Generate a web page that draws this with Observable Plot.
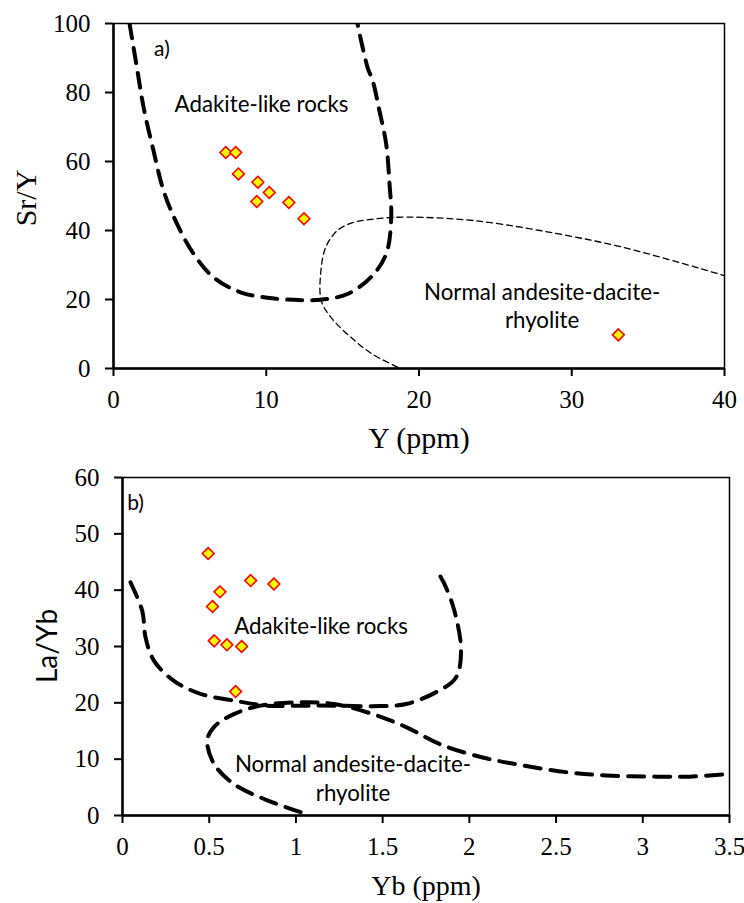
<!DOCTYPE html>
<html>
<head>
<meta charset="utf-8">
<script src="https://cdn.jsdelivr.net/npm/d3@7"></script>
<script src="https://cdn.jsdelivr.net/npm/@observablehq/plot@0.6"></script>
<style>
  html, body { margin: 0; padding: 0; background: #fff; }
  #wrap { position: relative; width: 744px; height: 903px; overflow: hidden; }
  .panel { position: absolute; left: 0; }
  .panel svg { overflow: visible; }
  .lbl { position: absolute; white-space: nowrap; color: #000; line-height: 1; }
  .serif { font-family: "Liberation Serif", "Times New Roman", serif; }
  .sans { font-family: Lato, "Open Sans", sans-serif; }
</style>
</head>
<body>
<div id="wrap">
  <div id="pa" class="panel" style="top:0"></div>
  <div id="pb" class="panel" style="top:450px"></div>
  <div class="lbl serif" style="left:26px; top:198px; font-size:30px; transform: translate(-50%,-50%) rotate(-90deg);">Sr/Y</div>
  <div class="lbl serif" style="left:419px; top:438px; font-size:30px; transform: translate(-50%,-50%);">Y (ppm)</div>
  <div class="lbl sans" style="left:46px; top:646px; font-size:28px; transform: translate(-50%,-50%) rotate(-90deg);">La/Yb</div>
  <div class="lbl serif" style="left:426px; top:886px; font-size:28px; transform: translate(-50%,-50%);">Yb (ppm)</div>
</div>
<script>
// ---------- Panel a) Sr/Y vs Y ----------
const sampleY    = [7.35, 8.0, 8.18, 9.45, 10.2, 9.38, 11.48, 12.47, 33.05];
const sampleSrY  = [62.6, 62.6, 56.4, 54.0, 51.0, 48.4, 48.1, 43.4, 9.75];

const adakiteA_x = [1.05, 1.53, 1.97, 2.62, 3.28, 4.16, 5.25, 6.56, 8.31, 10.07, 11.81, 13.56, 15.31, 16.84, 17.85, 18.18, 18.07, 17.85, 17.41, 16.97, 16.63, 15.97];
const adakiteA_y = [100, 87.3, 75.7, 63.1, 51.5, 41.9, 33.2, 26.4, 22.1, 20.5, 19.9, 19.9, 21.6, 26.4, 33.2, 43.8, 53.5, 65.1, 74.7, 83.4, 87.3, 100];

const normalA_x  = [18.6, 16.9, 15.53, 14.22, 13.6, 13.56, 13.89, 14.66, 15.75, 16.84, 18.29, 20.26, 23.54, 27.91, 33.38, 40];
const normalA_y  = [0.4, 4.3, 9.1, 14.9, 19.7, 27.4, 35.1, 40.0, 42.4, 43.2, 43.8, 43.8, 42.9, 40.0, 35.1, 26.9];

const ticksA_x = [0, 10, 20, 30, 40];
const ticksA_y = [0, 20, 40, 60, 80, 100];

// ---------- Panel b) La/Yb vs Yb ----------
const sampleYb   = [0.494, 0.739, 0.873, 0.562, 0.519, 0.529, 0.602, 0.687, 0.652];
const sampleLaYb = [46.5, 41.7, 41.1, 39.7, 37.1, 31.0, 30.3, 30.0, 22.0];

const adakiteB_x = [0.046, 0.114, 0.133, 0.181, 0.296, 0.45, 0.642, 0.835, 1.027, 1.219, 1.443, 1.635, 1.827, 1.923, 1.952, 1.914, 1.856, 1.808];
const adakiteB_y = [41.4, 36.3, 31.6, 27.5, 23.9, 21.6, 20.4, 19.5, 19.5, 19.5, 19.4, 19.8, 22.2, 24.5, 29.3, 36.3, 41.1, 43.7];

const normalB_x  = [1.027, 0.835, 0.642, 0.527, 0.489, 0.527, 0.642, 0.796, 1.027, 1.219, 1.443, 1.635, 1.827, 2.077, 2.308, 2.558, 2.789, 3.077, 3.27, 3.5];
const normalB_y  = [0.6, 2.7, 5.6, 9.2, 13.3, 15.7, 18.0, 19.5, 20.1, 19.8, 18.0, 15.7, 12.7, 10.3, 8.9, 7.7, 7.1, 6.9, 6.9, 7.4];

const ticksB_x = [0, 0.5, 1, 1.5, 2, 2.5, 3, 3.5];
const ticksB_y = [0, 10, 20, 30, 40, 50, 60];

const zip = (xs, ys) => xs.map((x, i) => ({x, y: ys[i]}));
const sans = "Lato, 'Open Sans', sans-serif";
const serif = "'Liberation Serif', 'Times New Roman', serif";

const markerOpts = {x: "x", y: "y", symbol: "diamond2", r: 5.3, fill: "#ffff00", stroke: "#ff0000", strokeWidth: 1.6};

function axes(tx, ty, xfmt) {
  return [
    Plot.axisX({ticks: tx, tickSize: 8, tickPadding: 14, fontSize: 25, label: null, strokeWidth: 2, tickFormat: xfmt}),
    Plot.axisY({ticks: ty, tickSize: 8, tickPadding: 15, fontSize: 25, label: null, strokeWidth: 2}),
  ];
}

const plotA = Plot.plot({
  width: 744, height: 450,
  marginLeft: 113, marginRight: 20, marginTop: 23, marginBottom: 82,
  x: {domain: [0, 40]},
  y: {domain: [0, 100]},
  style: {color: "#000", background: "#fff"},
  marks: [
    Plot.frame({stroke: "#000", strokeWidth: 1.5}),
    ...axes(ticksA_x, ticksA_y, d3.format("d")),
    Plot.ruleX([0], {stroke: "#000", strokeWidth: 2.5}),
    Plot.ruleY([0], {stroke: "#000", strokeWidth: 2.5}),
    Plot.line(zip(normalA_x, normalA_y), {x: "x", y: "y", curve: "catmull-rom", stroke: "#000", strokeWidth: 1.3, strokeDasharray: "6,4"}),
    Plot.line(zip(adakiteA_x, adakiteA_y), {x: "x", y: "y", curve: "catmull-rom", stroke: "#000", strokeWidth: 4, strokeDasharray: "15,10", clip: true}),
    Plot.dot(zip(sampleY, sampleSrY), markerOpts),
    Plot.text(["a)"], {x: 3.17, y: 92.6, fontFamily: sans, fontSize: 21}),
    Plot.text(["Adakite-like rocks"], {x: 9.69, y: 76.5, fontFamily: sans, fontSize: 22.3}),
    Plot.text(["Normal andesite-dacite-", "rhyolite"], {x: 28.06, y: [22.0, 13.9], fontFamily: sans, fontSize: 22.3})
  ]
});
document.getElementById("pa").append(plotA);

const plotB = Plot.plot({
  width: 744, height: 453,
  marginLeft: 122, marginRight: 15, marginTop: 27, marginBottom: 88,
  x: {domain: [0, 3.5]},
  y: {domain: [0, 60]},
  style: {color: "#000", background: "#fff"},
  marks: [
    Plot.frame({stroke: "#000", strokeWidth: 1.5}),
    ...axes(ticksB_x, ticksB_y, d => String(d)),
    Plot.ruleX([0], {stroke: "#000", strokeWidth: 2.5}),
    Plot.ruleY([0], {stroke: "#000", strokeWidth: 2.5}),
    Plot.line(zip(normalB_x, normalB_y), {x: "x", y: "y", curve: "catmull-rom", stroke: "#000", strokeWidth: 4, strokeDasharray: "16,10"}),
    Plot.line(zip(adakiteB_x, adakiteB_y), {x: "x", y: "y", curve: "catmull-rom", stroke: "#000", strokeWidth: 4, strokeDasharray: "16,10"}),
    Plot.dot(zip(sampleYb, sampleLaYb), markerOpts),
    Plot.text(["b)"], {x: 0.075, y: 55.5, fontFamily: sans, fontSize: 21}),
    Plot.text(["Adakite-like rocks"], {x: 1.145, y: 33.4, fontFamily: sans, fontSize: 22.3}),
    Plot.text(["Normal andesite-dacite-", "rhyolite"], {x: 1.329, y: [9.0, 3.85], fontFamily: sans, fontSize: 22.3})
  ]
});
document.getElementById("pb").append(plotB);

// Tick labels (numeric text) in Times-like serif, as in the reference
document.querySelectorAll('.panel svg text').forEach(t => {
  if (/^[\d.]+$/.test(t.textContent.trim())) {
    t.style.setProperty("font-family", serif, "important");
    t.style.setProperty("font-size", "25px", "important");
  }
});
</script>
</body>
</html>
